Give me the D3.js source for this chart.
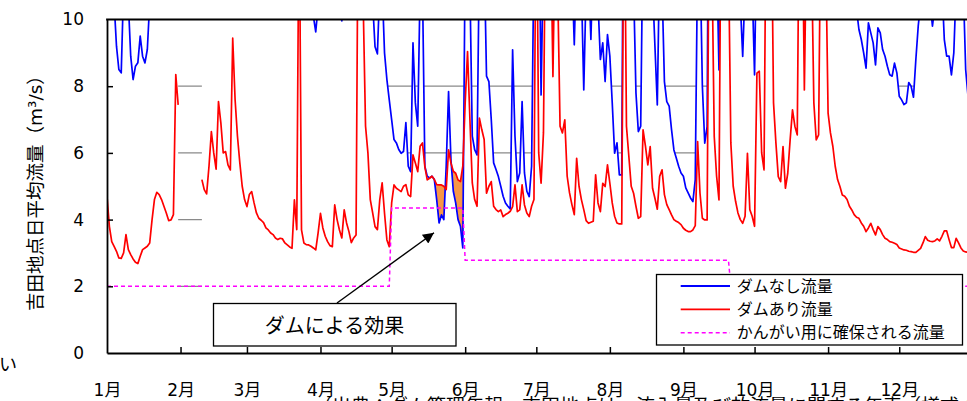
<!DOCTYPE html>
<html><head><meta charset="utf-8">
<script src="https://cdn.jsdelivr.net/npm/d3@7"></script>
<style>
html,body{margin:0;padding:0;background:#fff;overflow:hidden}
svg{display:block}
text{font-family:"DejaVu Sans","Noto Sans CJK JP",sans-serif;fill:#000}
</style></head><body>
<svg id="chart" width="967" height="401"></svg>
<script>
// Daily mean flow at the Yoshida gauge (m3/s), one value per day from 1 Jan; null = no record
const flowNoDam = [
 12.0,11.5,11.0,10.5,9.2,8.5,8.4,11.0,11.5,10.5,
 8.9,8.2,8.6,8.7,9.5,8.9,8.7,9.1,10.5,12.0,
 13.0,14.0,13.5,12.5,12.0,11.5,11.0,11.5,12.0,16.0,
 15.0,null,null,null,null,null,null,null,null,null,
 14.0,13.0,12.5,13.0,14.0,13.0,12.5,14.0,13.5,13.0,
 12.5,12.0,12.0,16.0,15.0,13.5,12.5,12.0,11.5,11.0,
 11.5,11.5,11.0,11.0,10.8,10.7,10.6,10.5,10.5,10.4,
 10.4,10.3,10.3,10.3,10.2,10.2,10.1,10.1,10.1,11.0,
 10.6,16.0,10.8,10.4,10.3,10.2,10.1,10.1,9.63,10.4,
 11.0,10.6,10.4,10.3,10.2,10.1,11.0,10.6,10.3,9.96,
 10.8,10.5,10.3,10.2,10.2,10.4,20.0,19.0,16.0,13.0,
 12.0,11.0,10.5,9.18,8.97,11.0,11.0,9.0,8.2,7.59,
 7.0,6.4,6.3,6.1,5.99,6.04,6.91,5.6,5.44,9.3,
 7.5,6.8,11.0,11.0,5.6,5.3,5.25,5.3,5.2,4.59,
 3.9,4.14,4.0,5.6,7.84,5.8,4.85,4.5,4.0,3.8,
 3.15,12.0,13.0,11.0,6.5,6.1,5.94,12.0,13.0,12.0,
 8.3,8.14,7.0,5.7,5.5,5.29,5.0,4.7,4.5,4.4,
 4.32,9.09,6.5,5.14,5.4,7.54,5.4,4.85,4.69,5.6,
 12.0,18.0,14.0,7.74,12.0,17.0,20.0,17.0,13.0,17.0,
 15.0,13.0,12.0,12.0,11.5,11.0,11.5,9.24,12.0,11.5,
 11.0,7.89,11.0,11.5,9.4,12.0,12.0,10.5,8.8,9.3,
 8.14,9.55,8.9,7.5,5.99,6.3,5.34,5.34,18.0,15.0,
 13.0,12.0,11.0,7.8,6.64,6.8,13.0,12.0,11.5,12.0,
 11.0,9.2,7.44,12.0,11.0,8.14,7.54,7.4,6.7,6.09,
 5.85,5.6,5.4,5.3,4.95,4.8,4.65,4.54,5.2,12.0,
 12.0,8.0,6.29,6.79,20.0,16.0,13.0,12.0,8.49,18.0,
 20.0,18.0,16.0,14.0,12.0,11.5,11.0,10.5,8.89,11.0,
 12.0,11.5,11.0,8.34,13.0,12.5,12.0,11.5,20.0,22.0,
 18.0,15.0,13.0,12.0,11.5,12.0,11.5,11.0,12.0,13.0,
 12.5,12.0,19.0,18.0,14.0,18.0,21.0,17.0,14.0,12.5,
 13.0,19.0,20.0,17.0,14.0,13.0,12.5,12.0,11.8,11.6,
 11.4,11.2,11.0,10.8,10.6,10.5,10.3,9.7,9.4,9.0,
 8.54,9.9,9.6,9.3,8.64,9.75,9.6,9.1,8.9,8.6,
 8.34,8.3,8.69,8.4,7.7,7.59,7.45,7.5,8.11,8.0,
 7.67,8.8,9.8,10.5,11.0,11.5,11.0,10.5,9.8,10.4,
 11.0,12.0,11.0,9.4,8.9,8.9,8.34,9.0,11.0,12.0,
 12.0,11.0,8.5,7.7,7.5
];
const flowWithDam = [
 4.7,3.8,3.34,3.2,3.05,2.85,2.84,3.0,3.55,3.1,
 2.95,2.82,2.72,2.68,2.9,3.1,3.15,3.2,3.3,4.0,
 4.6,4.82,4.75,4.6,4.4,4.2,3.97,3.99,4.15,8.35,
 7.44,null,null,null,null,null,null,null,null,null,
 5.2,4.9,4.77,5.6,6.64,6.0,5.51,7.54,6.9,6.0,
 6.04,5.64,5.49,9.44,7.6,6.5,5.7,5.0,4.6,4.39,
 4.75,4.84,4.5,4.2,4.04,3.98,3.91,3.75,3.69,3.6,
 3.55,3.45,3.4,3.44,3.42,3.3,3.24,3.18,3.14,4.59,
 3.7,14.0,3.69,3.3,3.25,3.24,3.2,3.15,3.09,3.6,
 4.19,3.75,3.5,3.34,3.22,3.19,4.44,4.0,3.69,3.45,
 4.29,3.9,3.64,3.31,3.45,3.54,15.0,14.0,10.5,6.8,
 6.0,4.6,4.2,3.79,3.7,4.6,5.1,4.19,3.39,3.19,
 4.5,5.04,4.94,4.89,4.84,5.0,5.05,4.74,4.69,5.94,
 5.7,5.44,6.2,6.3,5.59,5.19,5.24,5.3,5.2,5.05,
 5.04,5.04,5.0,4.9,6.09,5.7,5.45,5.39,5.19,5.14,
 5.6,7.5,9.04,7.0,5.1,4.6,4.4,7.04,6.7,6.4,
 4.79,5.0,5.14,4.4,4.3,4.24,4.29,4.09,4.15,4.19,
 4.25,4.39,5.04,4.24,4.29,5.04,4.44,4.2,4.09,4.4,
 4.6,15.0,6.0,5.09,6.6,14.0,16.0,13.0,8.29,13.0,
 11.0,6.8,6.6,6.99,5.3,4.8,4.45,4.15,5.84,5.0,
 4.6,4.3,3.97,3.89,3.92,3.95,5.34,4.5,4.24,5.09,
 4.99,5.64,5.09,4.5,4.1,3.9,3.87,3.87,15.0,6.8,
 5.9,5.0,4.79,4.4,4.04,4.09,6.69,6.2,5.64,6.19,
 4.94,4.64,4.31,5.3,5.49,4.75,4.45,4.3,4.14,4.0,
 3.95,3.91,3.85,3.74,3.68,3.64,3.64,3.69,3.82,6.34,
 4.79,4.04,3.99,3.99,15.0,12.0,6.5,5.3,4.59,15.0,
 14.0,13.0,12.0,6.3,5.0,4.55,4.2,4.0,3.89,4.1,
 5.99,4.3,4.1,3.8,8.39,8.45,6.0,5.49,15.0,16.0,
 14.0,7.5,6.3,5.29,5.14,6.19,4.94,5.39,6.39,7.29,
 6.8,6.54,15.0,14.0,7.89,13.0,16.0,12.0,7.5,6.39,
 6.54,14.0,15.0,12.0,7.19,6.6,6.2,5.6,5.2,4.99,
 4.74,4.7,4.6,4.4,4.29,4.15,4.07,4.04,3.9,3.8,
 3.64,3.75,3.89,3.7,3.54,3.79,3.7,3.55,3.44,3.4,
 3.34,3.32,3.29,3.25,3.15,3.12,3.09,3.08,3.05,3.04,
 3.02,3.02,3.08,3.14,3.3,3.49,3.38,3.35,3.34,3.36,
 3.42,3.36,3.5,3.66,3.66,3.4,3.16,3.16,3.44,3.3,
 3.15,3.06,3.03,3.02,3.0
];
// Flow reserved for irrigation: value in force from each start date (month-day)
const irrigationSteps = [
 {from: [1, 1],  value: 2.0},
 {from: [5, 1],  value: 4.35},
 {from: [6, 1],  value: 2.78},
 {from: [9, 21], value: 2.0}
];
const monthLabels = ["1月","2月","3月","4月","5月","6月","7月","8月","9月","10月","11月","12月"];
const yTicks = [0, 2, 4, 6, 8, 10];
const seriesNames = ["ダムなし流量", "ダムあり流量", "かんがい用に確保される流量"];
const calloutText = "ダムによる効果";
const yTitle = "吉田地点日平均流量（m³/s）";
const sourceNote = "（出典：ダム管理年報、吉田地点は、流入量及び放流量に関する年表（様式-2））";
const sideNote = "い";

const YEAR = 2003;
const DAY = 864e5;
const t0 = Date.UTC(YEAR, 0, 1);
const dateAt = t => new Date(t0 + t * DAY);
const N = flowWithDam.length;

const irrigation = d3.range(N).map(i => {
  const dt = dateAt(i);
  let v = irrigationSteps[0].value;
  for (const s of irrigationSteps) {
    if (dt >= new Date(Date.UTC(YEAR, s.from[0] - 1, s.from[1]))) v = s.value;
  }
  return v;
});

const svg = d3.select("#chart");
const plotLeft = 107, plotBottom = 353, plotTop = 19.5;
const x = d3.scaleUtc()
  .domain([new Date(t0), new Date(Date.UTC(YEAR + 1, 0, 1))])
  .range([plotLeft, plotLeft + 365 * 2.372]);
const y = d3.scaleLinear().domain([0, 10]).range([plotBottom, plotTop]);

const defs = svg.append("defs");
defs.append("clipPath").attr("id", "plot")
  .append("rect").attr("x", plotLeft).attr("y", plotTop)
  .attr("width", 980 - plotLeft).attr("height", plotBottom - plotTop);
defs.append("marker")
  .attr("id", "arrow").attr("viewBox", "0 0 10 10")
  .attr("refX", 10).attr("refY", 5)
  .attr("markerWidth", 13).attr("markerHeight", 11)
  .attr("markerUnits", "userSpaceOnUse").attr("orient", "auto")
  .append("path").attr("d", "M0,0L10,5L0,10Z").attr("fill", "#000");

// horizontal gridlines
svg.append("g").selectAll("line").data(yTicks.filter(v => v > 0)).join("line")
  .attr("x1", plotLeft).attr("x2", 967)
  .attr("y1", d => y(d)).attr("y2", d => y(d))
  .attr("stroke", "#8a8a8a").attr("stroke-width", 1.2);

const plot = svg.append("g").attr("clip-path", "url(#plot)");

// the no-dam series is an area with white fill, hiding gridlines beneath it
plot.append("path")
  .attr("d", d3.area()
    .defined(d => d != null)
    .x((d, i) => x(dateAt(i)))
    .y0(y(0))
    .y1(d => y(d))(flowNoDam))
  .attr("fill", "#fff");

// dam effect: where the regulated flow exceeds the natural flow
const effectPolys = [];
let cur = null;
for (let i = 0; i < N; i++) {
  const r = flowWithDam[i], b = flowNoDam[i];
  if (r == null || b == null) { if (cur) { effectPolys.push(cur); cur = null; } continue; }
  const diff = r - b;
  const hasPrev = i > 0 && flowWithDam[i - 1] != null && flowNoDam[i - 1] != null;
  if (diff > 0) {
    if (!cur) {
      cur = [];
      if (hasPrev) {
        const dp = flowWithDam[i - 1] - flowNoDam[i - 1];
        const t = dp / (dp - diff);
        const v = flowWithDam[i - 1] + t * (r - flowWithDam[i - 1]);
        cur.push({t: i - 1 + t, top: v, bot: v});
      }
    }
    cur.push({t: i, top: r, bot: b});
  } else if (cur) {
    const dp = flowWithDam[i - 1] - flowNoDam[i - 1];
    const t = dp / (dp - diff);
    const v = flowWithDam[i - 1] + t * (r - flowWithDam[i - 1]);
    cur.push({t: i - 1 + t, top: v, bot: v});
    effectPolys.push(cur); cur = null;
  }
}
const effectArea = d3.area()
  .x(p => x(dateAt(p.t))).y0(p => y(p.bot)).y1(p => y(p.top));
plot.append("g").selectAll("path").data(effectPolys).join("path")
  .attr("d", effectArea).attr("fill", "#f79646");

const lineOf = arr => d3.line()
  .defined(d => d != null)
  .x((d, i) => x(dateAt(i)))
  .y(d => y(d))(arr);

plot.append("path").attr("d", lineOf(flowNoDam))
  .attr("fill", "none").attr("stroke", "#0000ff").attr("stroke-width", 1.7)
  .attr("stroke-linejoin", "round");
plot.append("path").attr("d", lineOf(flowWithDam))
  .attr("fill", "none").attr("stroke", "#ff0000").attr("stroke-width", 1.7)
  .attr("stroke-linejoin", "round");
plot.append("path").attr("d", lineOf(irrigation))
  .attr("fill", "none").attr("stroke", "#ff00ff").attr("stroke-width", 1.5)
  .attr("stroke-dasharray", "4 3");

// source note sits just under the month labels and runs off the bottom edge
svg.append("text").attr("x", 313).attr("y", 412.5).attr("font-size", 19).text(sourceNote);

// axes
const yAxis = svg.append("g").attr("transform", `translate(${plotLeft},0)`)
  .call(d3.axisLeft(y).tickValues(yTicks).tickSize(-6).tickSizeOuter(0).tickPadding(23));
const months = d3.utcMonth.range(new Date(t0), new Date(Date.UTC(YEAR + 1, 0, 1)));
const xAxis = svg.append("g").attr("transform", `translate(0,${plotBottom})`)
  .call(d3.axisBottom(x).tickValues(months)
    .tickFormat((d, i) => monthLabels[i])
    .tickSize(-6).tickSizeOuter(0).tickPadding(31));
[yAxis, xAxis].forEach(g => {
  g.select(".domain").attr("stroke", "#000").attr("stroke-width", 1.8);
  g.selectAll(".tick line").attr("stroke", "#000").attr("stroke-width", 1.5);
  g.selectAll(".tick text").attr("font-size", 17)
    .attr("font-family", '"DejaVu Sans","Noto Sans CJK JP",sans-serif').attr("fill", "#000");
});
yAxis.selectAll(".tick line").filter(d => d === 0 || d === 10).remove();
xAxis.selectAll(".tick line").filter((d, i) => i === 0).remove();

// top frame line
svg.append("line").attr("x1", plotLeft - 0.9).attr("x2", 967)
  .attr("y1", plotTop).attr("y2", plotTop)
  .attr("stroke", "#000").attr("stroke-width", 1.8);

// axis title
svg.append("text")
  .attr("transform", `translate(35,311) rotate(-90)`)
  .attr("text-anchor", "start").attr("dominant-baseline", "central")
  .attr("font-size", 18.5).text(yTitle);

// callout box + arrow
svg.append("line")
  .attr("x1", 337).attr("y1", 303).attr("x2", 434).attr("y2", 232.7)
  .attr("stroke", "#000").attr("stroke-width", 1.4)
  .attr("marker-end", "url(#arrow)");
svg.append("rect").attr("x", 213.5).attr("y", 303.5).attr("width", 242.5).attr("height", 42.5)
  .attr("fill", "#fff").attr("stroke", "#000").attr("stroke-width", 1.3);
svg.append("text").attr("x", 334.5).attr("y", 326)
  .attr("text-anchor", "middle").attr("dominant-baseline", "central")
  .attr("font-size", 20).text(calloutText);

// legend
const legend = svg.append("g");
legend.append("rect").attr("x", 656.5).attr("y", 274.5).attr("width", 306).attr("height", 70.5)
  .attr("fill", "#fff").attr("stroke", "#000").attr("stroke-width", 1.3);
const legendStyles = [
  {color: "#0000ff", dash: null, w: 1.8},
  {color: "#ff0000", dash: null, w: 1.8},
  {color: "#ff00ff", dash: "4 3", w: 1.5}
];
seriesNames.forEach((name, i) => {
  const ly = 286 + i * 23.35;
  legend.append("line").attr("x1", 680.7).attr("x2", 730).attr("y1", ly).attr("y2", ly)
    .attr("stroke", legendStyles[i].color).attr("stroke-width", legendStyles[i].w)
    .attr("stroke-dasharray", legendStyles[i].dash);
  legend.append("text").attr("x", 736.7).attr("y", ly)
    .attr("dominant-baseline", "central").attr("font-size", 16).text(name);
});

// stray side text at the left edge
svg.append("text").attr("x", -1).attr("y", 371).attr("font-size", 18).text(sideNote);
</script>
</body></html>
